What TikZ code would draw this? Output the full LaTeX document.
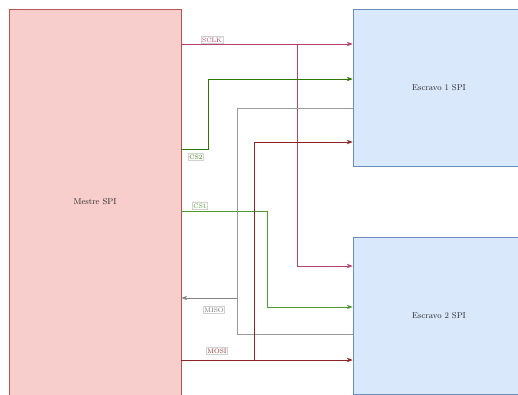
\documentclass[tikz,border=0pt]{standalone}
\usepackage{tikz}
\usetikzlibrary{positioning,arrows.meta,calc}
\definecolor{mestrefill}{HTML}{F8CECC}
\definecolor{mestredraw}{HTML}{B85450}
\definecolor{escravofill}{HTML}{DAE8FC}
\definecolor{escravodraw}{HTML}{6C8EBF}
\definecolor{sclkc}{HTML}{B8406E}
\definecolor{csdois}{HTML}{2D7600}
\definecolor{csum}{HTML}{4F9A30}
\definecolor{misoc}{HTML}{9A9A9A}
\definecolor{mosic}{HTML}{8C2424}
\tikzset{
    bloco/.style={draw,line width=0.7pt,minimum width=172pt,inner sep=0pt,
        font=\fontsize{8.5}{10}\selectfont,text=black!85},
    mestre/.style={bloco,fill=mestrefill,draw=mestredraw,minimum height=386pt},
    escravo/.style={bloco,fill=escravofill,draw=escravodraw,minimum height=157pt},
    sinal/.style={line width=0.8pt,-{Stealth[length=6pt,width=4.5pt]}},
    fio/.style={line width=0.8pt},
    rot/.style={fill=white,draw=black!18,line width=0.4pt,inner sep=1pt,
        font=\fontsize{6.5}{7}\selectfont},
}
\begin{document}
\begin{tikzpicture}[x=1pt,y=-1pt]
    \useasboundingbox (0,0) rectangle (518,394);
    \node[mestre] (m) at (95,202) {Mestre SPI};
    \node[escravo] (e1) at (439,87.5) {Escravo 1 SPI};
    \node[escravo] (e2) at (439,316) {Escravo 2 SPI};

    \coordinate (jsclk) at (297,44);
    \coordinate (jmiso) at (237,298);
    \coordinate (jmosi) at (254,360);

    \draw[sinal,sclkc] (m.east |- jsclk) -- (e1.west |- jsclk);
    \draw[sinal,sclkc] (jsclk) |- (e2.west |- 0,266);
    \draw[sinal,csdois] (m.east |- 0,149) -| (208,79) -- (e1.west |- 0,79);
    \draw[sinal,csum] (m.east |- 0,211) -| (267,307) -- (e2.west |- 0,307);
    \draw[fio,misoc] (e1.west |- 0,108) -| (jmiso);
    \draw[fio,misoc] (e2.west |- 0,334) -| (jmiso);
    \draw[sinal,misoc!85!black] (jmiso) -- (m.east |- jmiso);
    \draw[sinal,mosic] (m.east |- jmosi) -- (e2.west |- jmosi);
    \draw[sinal,mosic] (jmosi) |- (e1.west |- 0,142);

    \node[rot,text=sclkc] (lsclk) at (212,40) {SCLK};
    \node[rot,text=csdois] (lcs2) at (196,157) {CS2};
    \node[rot,text=csum] (lcs1) at (200,206) {CS1};
    \node[rot,text=misoc!70!black] (lmiso) at (214,310) {MISO};
    \node[rot,text=mosic] (lmosi) at (217,351) {MOSI};
\end{tikzpicture}
\end{document}
